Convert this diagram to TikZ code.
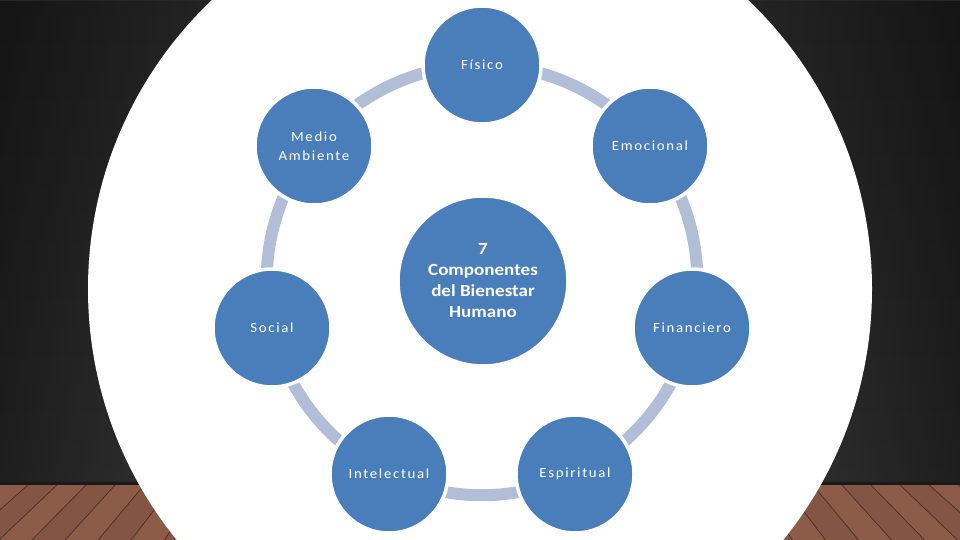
\documentclass[tikz,border=0pt]{standalone}
\usepackage{fontspec}
\setmainfont{Carlito}
\newfontfamily\lblfont[LetterSpace=12,FakeStretch=1.06]{Carlito}
\newfontfamily\ctrfont[FakeStretch=1.12]{Carlito}
\usetikzlibrary{fadings}
\definecolor{nodeblue}{HTML}{4A7EBB}
\definecolor{ringc}{HTML}{B2BDD8}
\definecolor{woodA}{HTML}{8C5C48}
\definecolor{woodB}{HTML}{845543}
\definecolor{woodline}{HTML}{4E3024}
\definecolor{bgtop}{HTML}{262626}
\definecolor{bgmid}{HTML}{030303}
\definecolor{bgbot}{HTML}{373737}
\pgfdeclarelayer{bg}
\pgfdeclarelayer{ring}
\pgfsetlayers{bg,ring,main}
\tikzset{
  comp/.style={circle, fill=nodeblue, draw=white, line width=3.5pt,
    minimum size=118pt, inner sep=0pt, text=white, align=center,
    font=\lblfont\fontsize{14}{19}\selectfont},
  hub/.style={comp, minimum size=170pt,
    font=\ctrfont\bfseries\fontsize{17}{21}\selectfont},
  link/.style={ringc, line width=12pt, bend left=25.7, looseness=0.9},
  plankline/.style={woodline, line width=0.8pt},
}
\begin{document}
\begin{tikzpicture}[x=1pt,y=-1pt]
\useasboundingbox (0,0) rectangle (960,540);
\begin{pgfonlayer}{bg}
  \clip (0,0) rectangle (960,540);
  % dark backdrop
  \shade[top color=bgtop, middle color=bgmid, bottom color=bgbot] (0,0) rectangle (960,484);
  \fill[black, opacity=0.45, path fading=east] (0,0) rectangle (240,484);
  \fill[black, opacity=0.45, path fading=west] (720,0) rectangle (960,484);
  % wooden floor
  \fill[woodA] (0,484) rectangle (960,540);
  \foreach \i in {-3,-1,...,37} {
    \pgfmathsetmacro{\xa}{\i*29}
    \pgfmathsetmacro{\xc}{\i*29+29}
    \pgfmathsetmacro{\xb}{\xa+(\xa-480)*0.14}
    \pgfmathsetmacro{\xd}{\xc+(\xc-480)*0.14}
    \fill[woodB] (\xa,484) -- (\xc,484) -- (\xd,540) -- (\xb,540) -- cycle;
  }
  \foreach \i in {-3,...,37} {
    \pgfmathsetmacro{\xa}{\i*29}
    \pgfmathsetmacro{\xb}{\xa+(\xa-480)*0.14}
    \draw[plankline] (\xa,484) -- (\xb,540);
  }
  \fill[black!90] (0,481.5) rectangle (960,485);
  % white backdrop
  \fill[white] (480,289) ellipse [x radius=392pt, y radius=396pt];
\end{pgfonlayer}

\node[comp] (fis) at (482,65)    {Físico};
\node[comp] (emo) at (650,146)   {Emocional};
\node[comp] (fin) at (692,328)   {Financiero};
\node[comp] (esp) at (575,474)   {Espiritual};
\node[comp] (int) at (389,474)   {Intelectual};
\node[comp] (soc) at (272,328)   {Social};
\node[comp] (med) at (314,146)   {Medio\\Ambiente};
\node[hub]  (cen) at (483,281)   {7\\Componentes\\del Bienestar\\Humano};

\begin{pgfonlayer}{ring}
  \foreach \a/\b in {fis/emo, emo/fin, fin/esp, esp/int, int/soc, soc/med, med/fis}
    \draw[link] (\a.center) to (\b.center);
\end{pgfonlayer}
\end{tikzpicture}
\end{document}
